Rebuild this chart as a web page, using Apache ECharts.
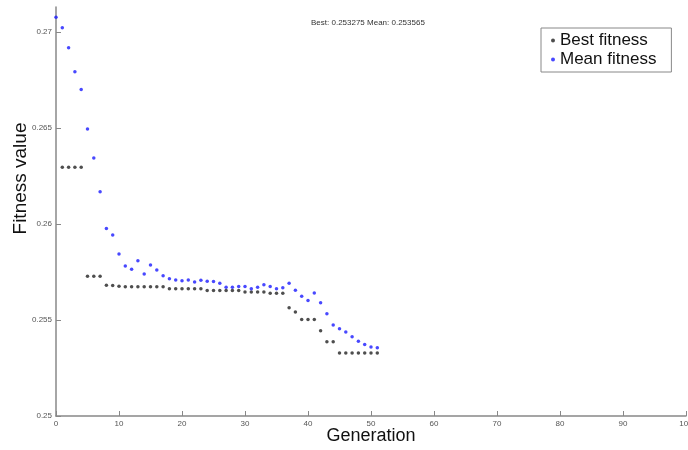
<!DOCTYPE html>
<html lang="en" style="height: 100%">
<head>
    <meta charset="utf-8">
    <title>GA fitness</title>
    <script src="https://cdn.jsdelivr.net/npm/echarts@6.0.0/dist/echarts.min.js"></script>
    <style>
        html, body {
            margin: 0;
            padding: 0;
            background: #ffffff;
        }
    </style>
</head>
<body>
<div id="chart" style="width:688px; height:450px;"></div>

<script type="text/javascript">
    // best fitness starts at generation 1, mean fitness at generation 0
    var bestStart = 1;
    var bestFitness = [
        0.26295, 0.26295, 0.26295, 0.26295,
        0.25728, 0.25728, 0.25728,
        0.25681, 0.25679, 0.25676,
        0.25673, 0.25673, 0.25673, 0.25673, 0.25673, 0.25673, 0.25673,
        0.25663, 0.25663, 0.25663, 0.25663, 0.25663, 0.25663,
        0.25653, 0.25653, 0.25653, 0.25653, 0.25653, 0.25653,
        0.25646, 0.25646, 0.25646, 0.25646,
        0.25639, 0.25639, 0.25639,
        0.25564, 0.25542,
        0.25502, 0.25502, 0.25502,
        0.25444,
        0.25387, 0.25387,
        0.253275, 0.253275, 0.253275, 0.253275, 0.253275, 0.253275, 0.253275
    ];
    var meanStart = 0;
    var meanFitness = [
        0.27077, 0.27022, 0.26918, 0.26793, 0.26700, 0.26495, 0.26344, 0.26168,
        0.25976, 0.25943, 0.25844, 0.25781, 0.25764, 0.25809, 0.25740, 0.25786,
        0.25760, 0.25731, 0.25715, 0.25708, 0.25705, 0.25708, 0.25698, 0.25707,
        0.25702, 0.25700, 0.25691, 0.25670, 0.25670, 0.25674, 0.25674, 0.25663,
        0.25670, 0.25684, 0.25674, 0.25663, 0.25668, 0.25691, 0.25655, 0.25624,
        0.25601, 0.25641, 0.25590, 0.25533, 0.25474, 0.25455, 0.25438, 0.25413,
        0.25389, 0.25372, 0.25359, 0.25356
    ];
    var yTicks = ['0.25', '0.255', '0.26', '0.265', '0.27'];
    var titleText = 'Best: 0.253275 Mean: 0.253565';

    function toPoints(values, start) {
        return values.map(function (v, i) {
            return [start + i, v];
        });
    }

    var yTickValues = yTicks.map(Number);
    var myChart = echarts.init(document.getElementById('chart'));

    myChart.setOption({
        animation: false,
        textStyle: { fontFamily: 'Liberation Sans' },
        title: {
            text: titleText,
            left: 311,
            top: 19,
            padding: 0,
            textStyle: { fontSize: 8, fontWeight: 'normal', color: '#333' }
        },
        legend: {
            orient: 'vertical',
            left: 541,
            top: 28,
            padding: [4, 15, 4, 10],
            itemGap: 2,
            itemWidth: 4,
            itemHeight: 4,
            borderColor: '#888',
            borderWidth: 1,
            textStyle: { fontSize: 17, color: '#111' },
            data: [
                { name: 'Best fitness', icon: 'circle' },
                { name: 'Mean fitness', icon: 'circle' }
            ]
        },
        grid: { left: 56, right: 2, top: 7, bottom: 34, outerBoundsMode: 'none' },
        xAxis: {
            type: 'value',
            min: 0,
            max: 100,
            interval: 10,
            name: 'Generation',
            nameLocation: 'middle',
            nameGap: 11,
            nameMoveOverlap: false,
            nameTextStyle: { fontSize: 18, color: '#111' },
            axisLine: { lineStyle: { color: '#888', width: 1.5 } },
            axisTick: { inside: true, length: 5, lineStyle: { color: '#888' } },
            axisLabel: { fontSize: 8, color: '#555', margin: 4 },
            splitLine: { show: false }
        },
        yAxis: {
            type: 'value',
            min: 0.25,
            max: 0.2713,
            name: 'Fitness value',
            nameLocation: 'middle',
            nameGap: 26,
            nameMoveOverlap: false,
            nameTextStyle: { fontSize: 19, color: '#111', padding: [0, 0, 0, 66] },
            axisLine: { show: true, lineStyle: { color: '#888', width: 1.5 } },
            axisTick: { show: true, inside: true, length: 5, customValues: yTickValues, lineStyle: { color: '#888' } },
            axisLabel: {
                fontSize: 8,
                color: '#555',
                margin: 4,
                customValues: yTickValues,
                formatter: function (v) {
                    var i = yTickValues.indexOf(v);
                    return i >= 0 ? yTicks[i] : '';
                }
            },
            splitLine: { show: false }
        },
        series: [{
            name: 'Best fitness',
            type: 'scatter',
            symbolSize: 3.5,
            itemStyle: { color: '#222' },
            data: toPoints(bestFitness, bestStart)
        }, {
            name: 'Mean fitness',
            type: 'scatter',
            symbolSize: 3.5,
            itemStyle: { color: '#1a1aff' },
            data: toPoints(meanFitness, meanStart)
        }]
    });
</script>

</body>
</html>
